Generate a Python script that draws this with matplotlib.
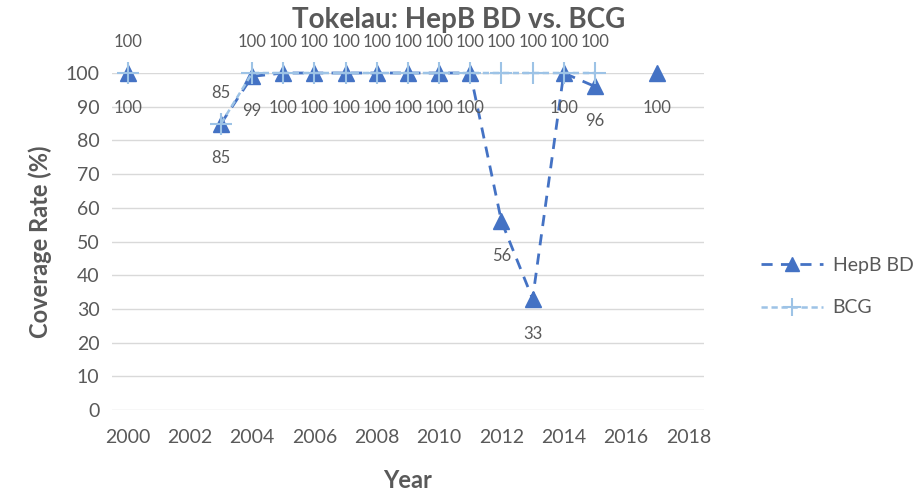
import numpy as np
import matplotlib
matplotlib.use('Agg')
import matplotlib.pyplot as plt

# data (NaN = no report that year)
years = list(range(2000, 2018))
hepb_bd = [100, np.nan, np.nan, 85, 99, 100, 100, 100, 100, 100, 100, 100,
           56, 33, 100, 96, np.nan, 100]
bcg = [100, np.nan, np.nan, 85, 100, 100, 100, 100, 100, 100, 100, 100,
       100, 100, 100, 100, np.nan, np.nan]
x_ticks = list(range(2000, 2019, 2))
y_ticks = list(range(0, 101, 10))

TXT = '#595959'
HEPB_C = '#4472C4'
BCG_C = '#9DC3E6'

plt.rcParams['font.family'] = ['Lato', 'DejaVu Sans']

fig = plt.figure(figsize=(9.17, 4.98), dpi=100)
ax = fig.add_axes([0.1221, 0.1767, 0.6456, 0.6767])

ax.plot(years, hepb_bd, color=HEPB_C, lw=2.0, ls=(0, (4, 3)),
        marker='^', ms=12, markeredgecolor=HEPB_C, clip_on=False,
        label='HepB BD', zorder=3)
ax.plot(years, bcg, color=BCG_C, lw=1.8, ls=(0, (2.5, 1.5)),
        marker='+', ms=16, mew=1.5, clip_on=False, label='BCG', zorder=4)

# data labels: HepB below, BCG above
for x, v in zip(years, hepb_bd):
    if not np.isnan(v):
        ax.annotate(f'{v:.0f}', (x, v), xytext=(0, -25), textcoords='offset points',
                    ha='center', va='center', fontsize=12, color=TXT)
for x, v in zip(years, bcg):
    if not np.isnan(v):
        ax.annotate(f'{v:.0f}', (x, v), xytext=(0, 22), textcoords='offset points',
                    ha='center', va='center', fontsize=12, color=TXT)

ax.set_xlim(1999.5, 2018.5)
ax.set_ylim(0, 100)
ax.set_xticks(x_ticks)
ax.set_yticks(y_ticks)
ax.tick_params(length=0, labelsize=14, labelcolor=TXT)
ax.tick_params(axis='x', pad=14)
ax.tick_params(axis='y', pad=9)
ax.grid(axis='y', color='#D9D9D9', lw=1)
ax.set_axisbelow(True)
for s in ax.spines.values():
    s.set_visible(False)

ax.set_xlabel('Year', fontsize=17, fontweight='bold', color=TXT, labelpad=16)
ax.set_ylabel('Coverage Rate (%)', fontsize=17, fontweight='bold', color=TXT, labelpad=10)
fig.suptitle('Tokelau: HepB BD vs. BCG', x=0.5, y=0.985, fontsize=20,
             fontweight='bold', color=TXT)

leg = fig.legend(loc='center left', bbox_to_anchor=(0.819, 0.424), frameon=False,
                 fontsize=14, handlelength=3.2, handletextpad=0.5, borderpad=0,
                 labelspacing=1.3, markerscale=0.85)
for t in leg.get_texts():
    t.set_color(TXT)

fig.savefig('out.png', dpi=100)
